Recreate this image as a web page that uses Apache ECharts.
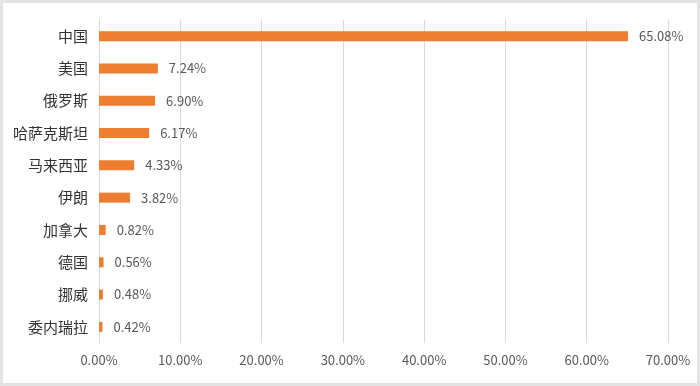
<!DOCTYPE html>
<html><head><meta charset="utf-8">
<script src="https://cdn.jsdelivr.net/npm/echarts@6/dist/echarts.min.js"></script>
<style>html,body{margin:0;padding:0;background:#fff}#c{width:700px;height:386px}</style>
</head><body><div id="c"></div>
<script>
var categories = ['中国','美国','俄罗斯','哈萨克斯坦','马来西亚','伊朗','加拿大','德国','挪威','委内瑞拉'];
var shares = [65.08, 7.24, 6.90, 6.17, 4.33, 3.82, 0.82, 0.56, 0.48, 0.42];
var axisMin = 0, axisMax = 70, axisStep = 10;

var chart = echarts.init(document.getElementById('c'), null, {renderer:'canvas'});
var font = '"Noto Sans CJK SC", "Noto Sans", sans-serif';
chart.setOption({
  animation: false,
  backgroundColor: '#ffffff',
  textStyle: {fontFamily: font},
  graphic: [{type:'rect', shape:{x:1.5,y:1.5,width:697,height:383}, style:{fill:'none', stroke:'#e3e3e3', lineWidth:3}, silent:true}],
  grid: {left: 99, right: 32, top: 20, bottom: 43, containLabel: false},
  xAxis: {
    type: 'value', min: axisMin, max: axisMax, interval: axisStep,
    axisLine: {show:false}, axisTick: {show:false},
    splitLine: {lineStyle: {color:'#d9d9d9', width:1}},
    axisLabel: {color:'#595959', fontSize:13, margin:11, fontFamily: font,
      formatter: function(v){ return v.toFixed(2) + '%'; }}
  },
  yAxis: {
    type: 'category', data: categories, inverse: true,
    axisLine: {show:true, lineStyle:{color:'#d9d9d9'}}, axisTick: {show:false},
    axisLabel: {color:'#333333', fontSize:15, margin:11, fontFamily: font}
  },
  series: [{
    type: 'bar', data: shares, barWidth: 10,
    itemStyle: {color:'#ED7D31'},
    label: {show:true, position:'right', distance:11, color:'#595959', fontSize:13, fontFamily: font,
      formatter: function(p){ return p.value.toFixed(2) + '%'; }}
  }]
});
</script></body></html>
